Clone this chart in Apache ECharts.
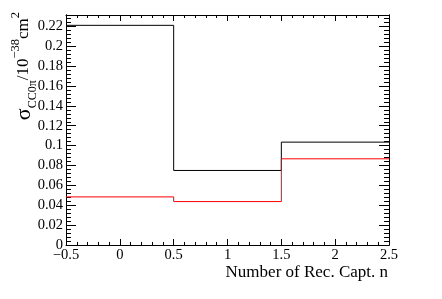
<!DOCTYPE html>
<html>
<head>
<meta charset="utf-8">
<script src="https://cdn.jsdelivr.net/npm/echarts@6/dist/echarts.min.js"></script>
<style>html,body{margin:0;padding:0;background:#fff;}#c{width:442px;height:299px;}</style>
</head>
<body>
<div id="c"></div>
<script>
// bin edges of the histogram (x = number of reconstructed captured neutrons)
var binEdges = [-0.5, 0.5, 1.5, 2.5];
// black histogram values (per bin)
var blackValues = [0.221, 0.075, 0.1035];
// red histogram values (per bin)
var redValues = [0.0484, 0.0437, 0.0867];
var xTitle = 'Number of Rec. Capt. n';

function stepData(edges, vals) {
  var d = [];
  for (var i = 0; i < vals.length; i++) d.push([edges[i], vals[i]]);
  d.push([edges[edges.length - 1], vals[vals.length - 1]]);
  return d;
}

var FONT = "'Liberation Serif', 'Times New Roman', serif";
var yMax = 0.2314;
var chart = echarts.init(document.getElementById('c'), null, {renderer: 'canvas'});

function xAxisDef(pos, showLabel) {
  return {
    type: 'value', position: pos, min: -0.5, max: 2.5, interval: 0.5,
    axisLine: {show: true, onZero: false, lineStyle: {color: '#000', width: 1}},
    axisTick: {show: true, inside: true, length: 6, lineStyle: {color: '#000', width: 1}},
    minorTick: {show: true, splitNumber: 5, length: 3, lineStyle: {color: '#000', width: 1}},
    splitLine: {show: false},
    axisLabel: {show: showLabel, fontFamily: FONT, fontSize: 14.5, color: '#000', margin: 3,
      formatter: function (v) { return String(+v.toFixed(2)).replace('-', '\u2212'); }}
  };
}
function yAxisDef(pos, showLabel, interval, len) {
  return {
    type: 'value', position: pos, min: 0, max: yMax, interval: interval,
    axisLine: {show: true, onZero: false, lineStyle: {color: '#000', width: 1}},
    axisTick: {show: true, inside: true, length: len, lineStyle: {color: '#000', width: 1}},
    splitLine: {show: false},
    axisLabel: {show: showLabel, fontFamily: FONT, fontSize: 14.5, color: '#000', margin: 3,
      formatter: function (v) {
        var k = v / 0.02;
        if (Math.abs(k - Math.round(k)) > 1e-6) return '';
        return String(+v.toFixed(3));
      }}
  };
}

var option = {
  animation: false,
  backgroundColor: '#fff',
  grid: {left: 66, right: 53, top: 15, bottom: 54, containLabel: false},
  xAxis: [xAxisDef('bottom', true), xAxisDef('top', false)],
  yAxis: [
    yAxisDef('left', true, 0.02, 10),
    yAxisDef('left', false, 0.004, 5),
    yAxisDef('right', false, 0.02, 10),
    yAxisDef('right', false, 0.004, 5)
  ],
  series: [
    {type: 'line', step: 'end', xAxisIndex: 0, yAxisIndex: 0, showSymbol: false, symbol: 'none',
     lineStyle: {color: '#000', width: 1}, itemStyle: {color: '#000'},
     data: stepData(binEdges, blackValues)},
    {type: 'line', step: 'end', xAxisIndex: 0, yAxisIndex: 0, showSymbol: false, symbol: 'none',
     lineStyle: {color: '#ff0000', width: 1}, itemStyle: {color: '#ff0000'},
     data: stepData(binEdges, redValues)}
  ],
  graphic: [
    {type: 'text', x: 388, y: 272.5,
     style: {text: xTitle, fontFamily: FONT, fontSize: 17, fill: '#000', align: 'right', verticalAlign: 'middle'}},
    {type: 'text', x: 24, y: 12, rotation: Math.PI / 2,
     style: {
       text: '{s|\u03c3}{sub|CC0\u03c0}{n|/10}{sup|\u221238}{n|cm}{sup|2}',
       align: 'right', verticalAlign: 'middle', fill: '#000', fontFamily: FONT,
       rich: {
         s: {fontFamily: FONT, fontSize: 22, lineHeight: 30, fill: '#000'},
         n: {fontFamily: FONT, fontSize: 17, lineHeight: 30, fill: '#000'},
         sub: {fontFamily: FONT, fontSize: 12, lineHeight: 18, verticalAlign: 'bottom', fill: '#000'},
         sup: {fontFamily: FONT, fontSize: 12.5, lineHeight: 13, verticalAlign: 'top', fill: '#000'}
       }
     }}
  ]
};
chart.setOption(option);
</script>
</body>
</html>
